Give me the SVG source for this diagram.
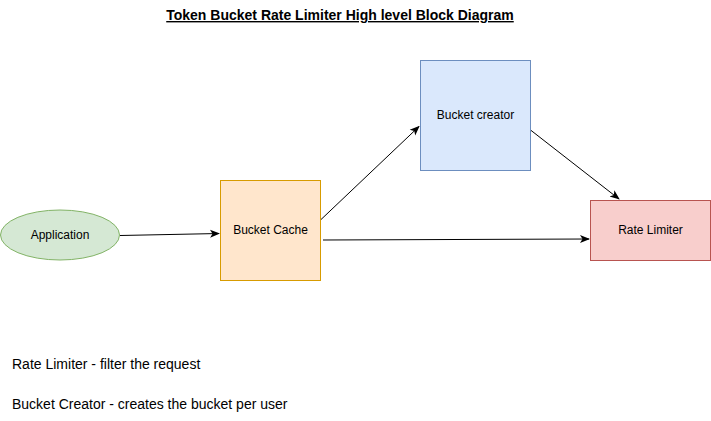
<svg xmlns="http://www.w3.org/2000/svg" width="711" height="421" viewBox="0 0 711 421">
<style>
text{font-family:"Liberation Sans",Arial,sans-serif;fill:#000}
.lbl{font-size:12px;text-anchor:middle;dominant-baseline:central}
.note{font-size:14px}
.edge{stroke:#000;stroke-width:1;fill:none;marker-end:url(#ah)}
</style>
<defs>
<marker id="ah" viewBox="0 0 10 10" refX="9" refY="5" markerWidth="10" markerHeight="10" markerUnits="userSpaceOnUse" orient="auto">
<path d="M0,1 L10,5 L0,9 L2.5,5 Z" fill="#000"/>
</marker>
</defs>
<rect width="711" height="421" fill="#fff"/>
<text x="340" y="20" font-size="14" font-weight="bold" text-anchor="middle" text-decoration="underline">Token Bucket Rate Limiter High level Block Diagram</text>
<g id="edges">
<path class="edge" d="M120,235.5 L219,233.5"/>
<path class="edge" d="M320.5,220 L419,126.5"/>
<path class="edge" d="M530.5,130 L619,199"/>
<path class="edge" d="M323,240 L589,239"/>
</g>
<g id="application">
<ellipse cx="60" cy="235" rx="59.5" ry="25" fill="#d5e8d4" stroke="#82b366"/>
<text class="lbl" x="60" y="235">Application</text>
</g>
<g id="bucket-cache">
<rect x="220.5" y="180.5" width="100" height="100" fill="#ffe6cc" stroke="#d79b00"/>
<text class="lbl" x="270.5" y="230">Bucket Cache</text>
</g>
<g id="bucket-creator">
<rect x="420.5" y="60.5" width="110" height="110" fill="#dae8fc" stroke="#6c8ebf"/>
<text class="lbl" x="475.5" y="115">Bucket creator</text>
</g>
<g id="rate-limiter">
<rect x="590.5" y="200.5" width="120" height="60" fill="#f8cecc" stroke="#b85450"/>
<text class="lbl" x="650.5" y="230">Rate Limiter</text>
</g>
<text class="note" x="12" y="369">Rate Limiter - filter the request</text>
<text class="note" x="12" y="409">Bucket Creator - creates the bucket per user</text>
</svg>
